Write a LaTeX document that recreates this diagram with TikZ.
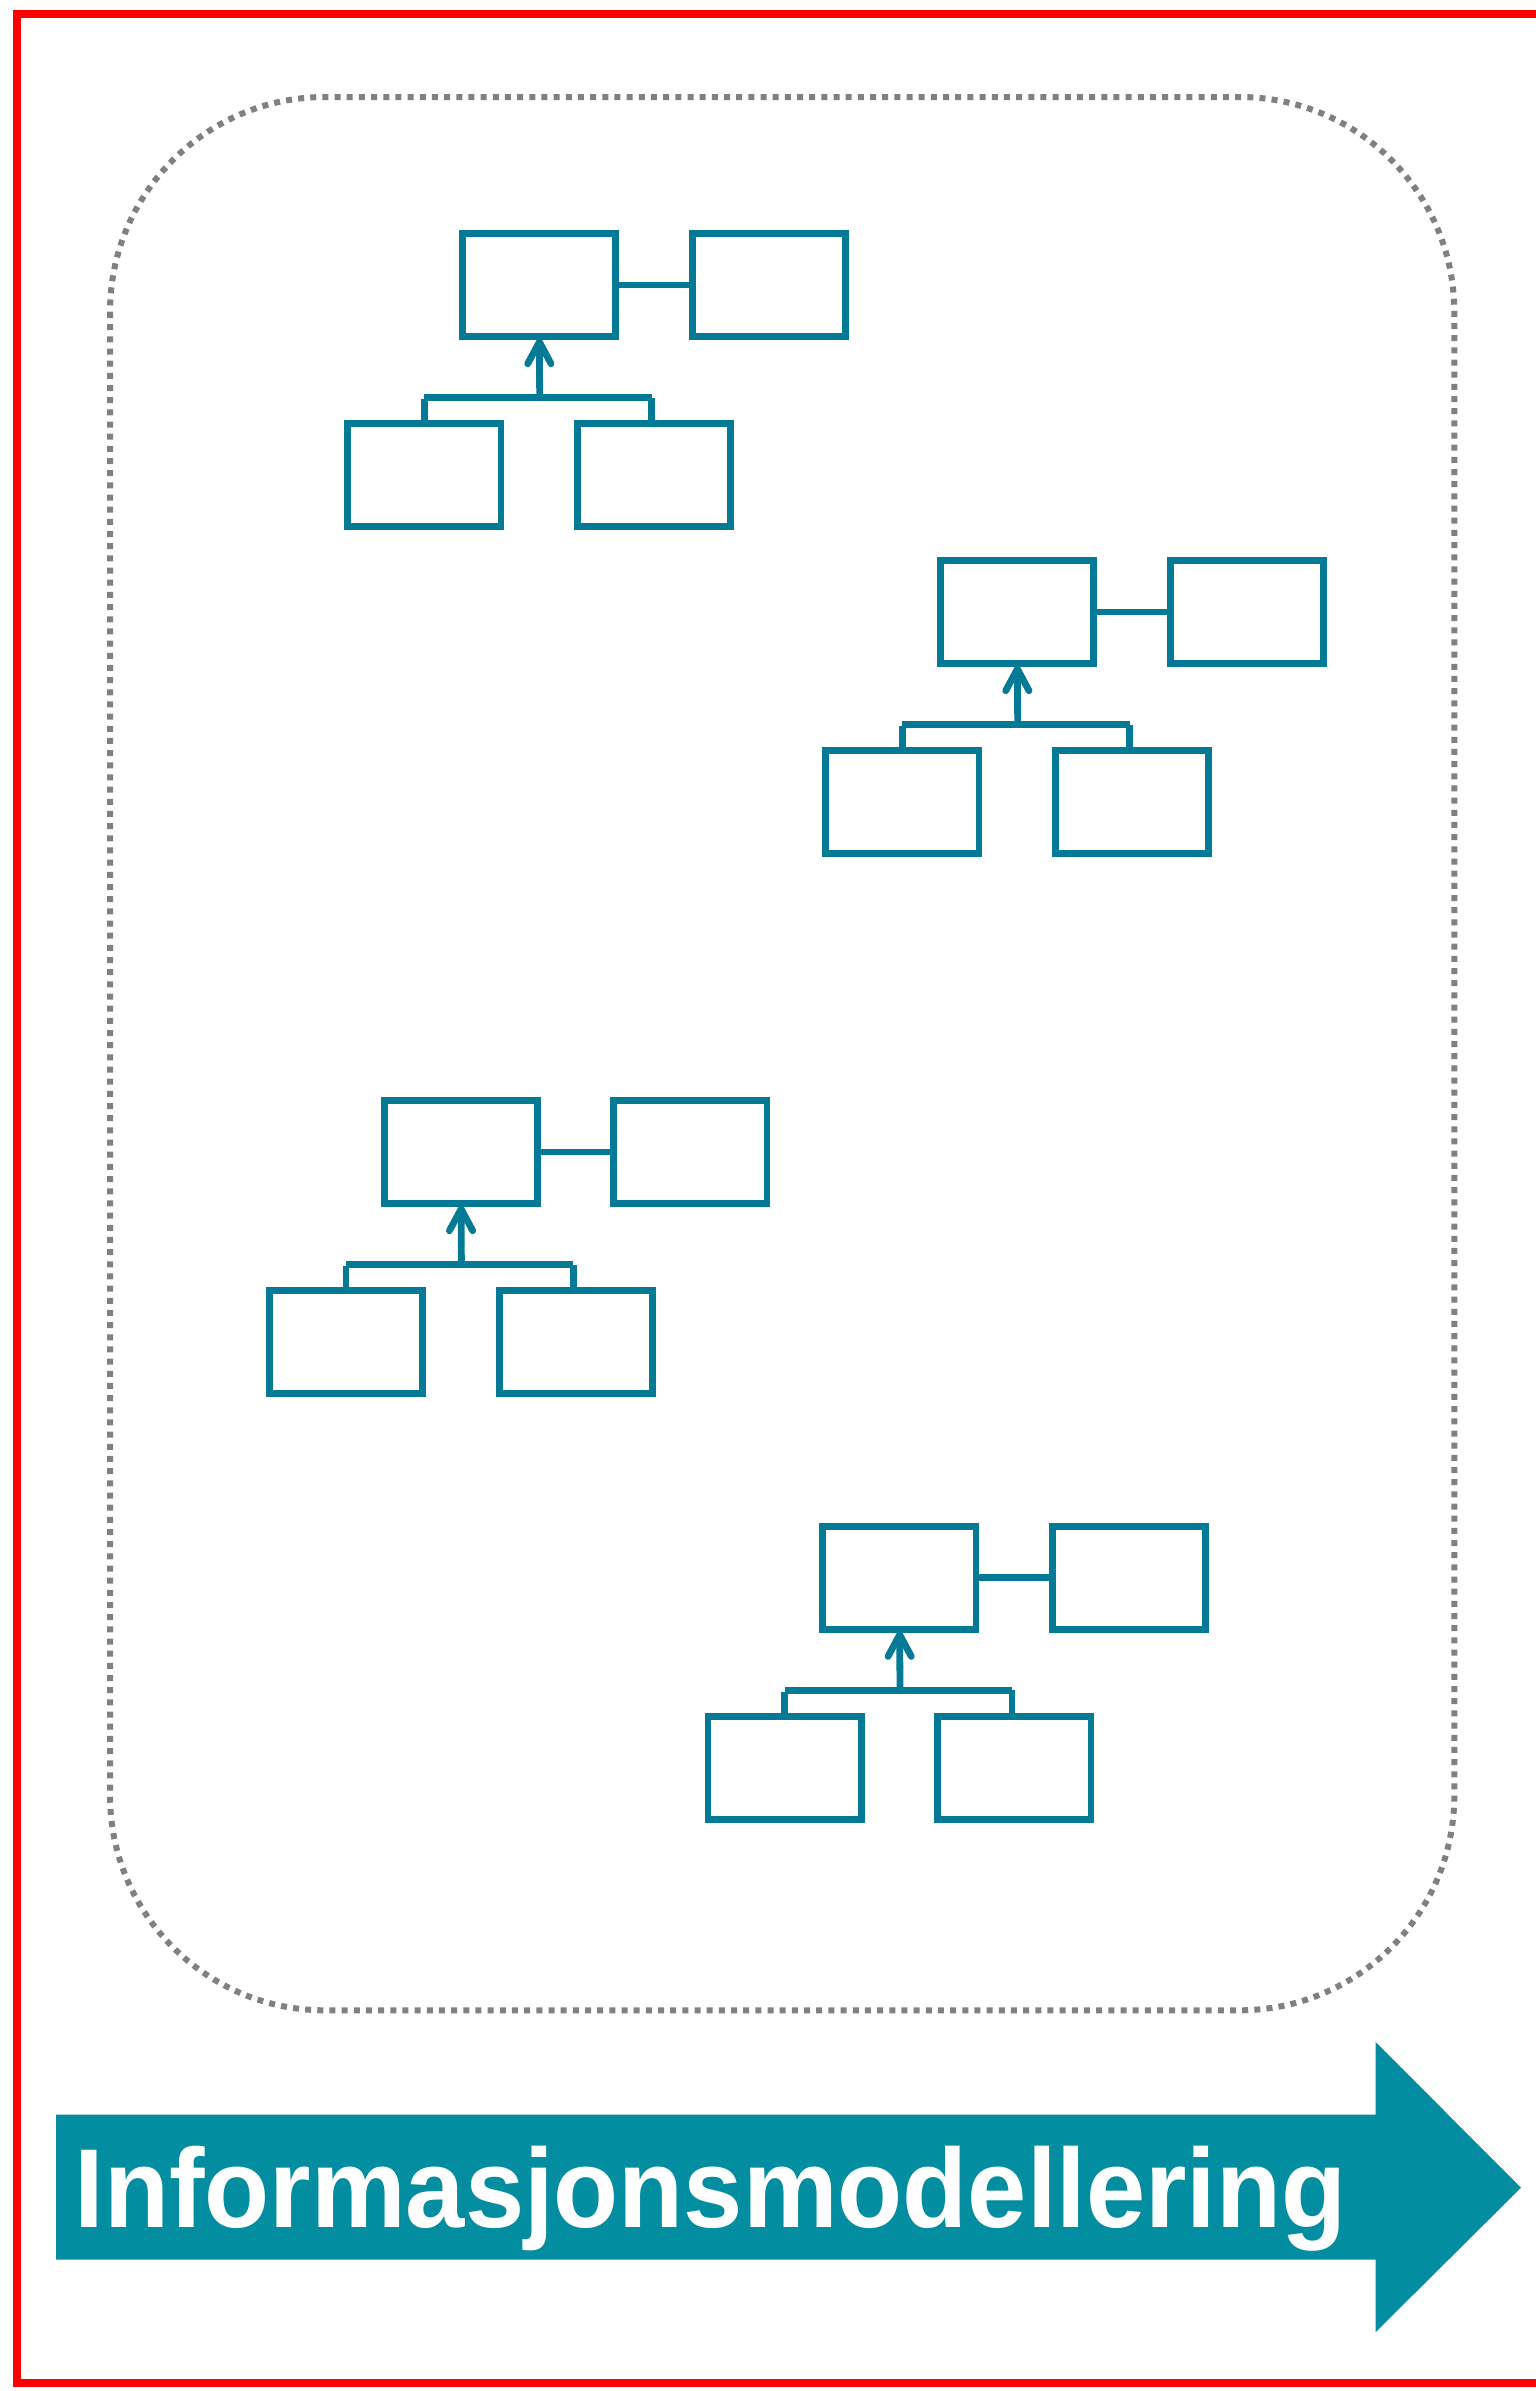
\documentclass[tikz,border=0pt]{standalone}
\usepackage{fontspec}
\setmainfont{Liberation Sans}
\usetikzlibrary{calc}
\definecolor{boxblue}{HTML}{047A96}
\definecolor{arrowteal}{HTML}{038DA0}
\definecolor{dotgray}{HTML}{808080}
\tikzset{
  classbox/.style={draw=boxblue,line width=6.8pt,fill=white,inner sep=0pt,outer sep=0pt,minimum width=153.2pt,minimum height=103.2pt},
  link/.style={draw=boxblue,line width=6.8pt},
  head/.style={draw=boxblue,line width=6.8pt,line cap=round,line join=round},
}
\newcommand{\classgroup}[3]{%
  \begin{scope}[shift={(#2,#3)}]
    \node[classbox] (#1a) at (0,0) {};
    \node[classbox] (#1b) at (229.7,0) {};
    \node[classbox] (#1c) at (-114.7,190) {};
    \node[classbox] (#1d) at (115,190) {};
    \coordinate (#1j) at (0.7,112.7);
    \coordinate (#1l) at (-114.7,112.7);
    \coordinate (#1r) at (112.7,112.7);
    \coordinate (#1ls) at (-114.7,114.2);
    \coordinate (#1rs) at (112.7,112.7);
    \coordinate (#1t) at (0.4,60);
    \coordinate (#1p) at (0.4,57);
    \coordinate (#1m) at (-11.3,78.7);
    \coordinate (#1n) at (12,78.7);
    \draw[link] (#1a.east) -- (#1b.west);
    \draw[link] (#1l) -- (#1r);
    \draw[link] (#1c.north-|#1ls) -- (#1ls);
    \draw[link] (#1d.north-|#1rs) -- (#1rs);
    \draw[link] (#1j) -- (#1t);
    \draw[head] (#1m) -- (#1p) -- (#1n);
  \end{scope}}
\begin{document}
\begin{tikzpicture}[x=1pt,y=-1pt]
\useasboundingbox (0,0) rectangle (1536,2391);
\fill[white] (0,0) rectangle (1536,2391);
\coordinate (fa) at (1545,13.5);
\coordinate (fb) at (16.5,13.5);
\coordinate (fc) at (16.5,2383);
\coordinate (fd) at (1545,2383);
\draw[red,line width=8pt,line join=miter] (fa) -- (fb) -- (fc) -- (fd);
\draw[dotgray,line width=6pt,dash pattern=on 6pt off 6.17pt,rounded corners=215pt] (110,97) rectangle (1454.3,2010.3);
\classgroup{g}{539}{285}
\classgroup{h}{1017}{612}
\classgroup{i}{460.7}{1152}
\classgroup{j}{899.3}{1577.7}
\fill[arrowteal] (56,2114.7) -- (1375.7,2114.7) -- (1375.7,2042) -- (1521,2187.7) -- (1375.7,2332) -- (1375.7,2259.7) -- (56,2259.7) -- cycle;
\node[text=white,font=\bfseries\fontsize{112.3pt}{112.3pt}\selectfont,anchor=base west,inner sep=0pt] (label) at (74.5,2227.3) {\scalebox{.948}[1]{Informasjonsmodellering}};
\end{tikzpicture}
\end{document}
